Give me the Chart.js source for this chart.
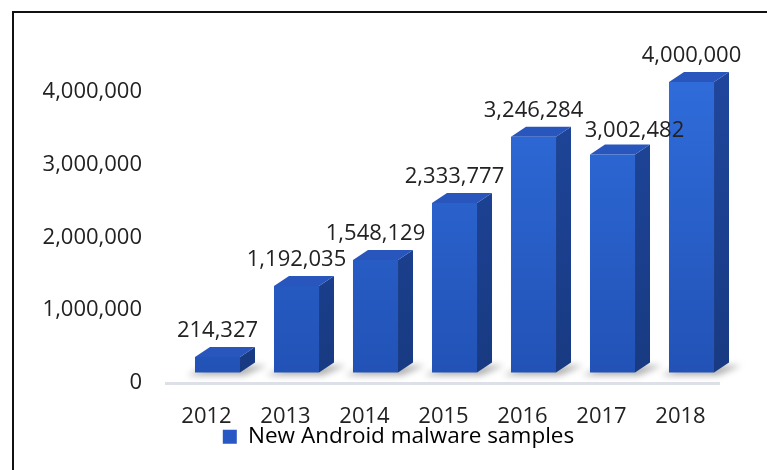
<!DOCTYPE html>
<html>
<head>
<meta charset="utf-8">
<script src="https://cdn.jsdelivr.net/npm/chart.js@4"></script>
<style>
  html, body { margin: 0; padding: 0; background: #fff; }
  #wrap { width: 767px; height: 470px; position: relative; }
</style>
</head>
<body>
<div id="wrap"><canvas id="malwareChart"></canvas></div>
<script>
const years = ['2012', '2013', '2014', '2015', '2016', '2017', '2018'];
const samples = [214327, 1192035, 1548129, 2333777, 3246284, 3002482, 4000000];
const yTicks = [0, 1000000, 2000000, 3000000, 4000000];
const seriesName = 'New Android malware samples';

const FONT = '"Open Sans", "Noto Sans", sans-serif';
const TEXT = '#222222';

// fake 3D: how far the back of each bar sits from the front, and how far the whole block floats
const depth = { dx: 15, dy: 10, lift: 10 };
// hand-placed label tweaks (2017 label was pushed aside in the original)
const labelNudge = [[0, 0], [0, 0], [0, 0], [0, 0], [0, 0], [22, 3], [0, 0]];

const fmt = v => v.toLocaleString('en-US');

function frontGradient(c) {
    const { chartArea, ctx } = c.chart;
    if (!chartArea) return '#2a60cc';
    const g = ctx.createLinearGradient(0, chartArea.top, 0, chartArea.bottom);
    g.addColorStop(0, '#2f6cda');
    g.addColorStop(1, '#2252b6');
    return g;
}

const frame = {
    id: 'frame',
    beforeDraw(chart) {
        const ctx = chart.ctx;
        ctx.save();
        ctx.fillStyle = '#fff';
        ctx.fillRect(0, 0, chart.width, chart.height);
        ctx.strokeStyle = '#111';
        ctx.lineWidth = 2;
        ctx.beginPath();
        ctx.moveTo(13, chart.height);
        ctx.lineTo(13, 12);
        ctx.lineTo(chart.width, 12);
        ctx.stroke();
        ctx.restore();
    }
};

const bar3d = {
    id: 'bar3d',
    beforeDatasetsDraw(chart) {
        const ctx = chart.ctx;
        const area = chart.chartArea;
        const y0 = chart.scales.y.getPixelForValue(0);

        // floor line
        ctx.save();
        ctx.strokeStyle = '#dde0e6';
        ctx.lineWidth = 3;
        ctx.beginPath();
        ctx.moveTo(area.left - 13, y0 + 1);
        ctx.lineTo(area.right - 11, y0 + 1);
        ctx.stroke();
        ctx.restore();

        ctx.save();
        ctx.translate(0, -depth.lift);

        // soft shadows under the bars
        chart.getDatasetMeta(0).data.forEach(bar => {
            const l = bar.x - bar.width / 2, r = bar.x + bar.width / 2, b = bar.base;
            ctx.save();
            ctx.filter = 'blur(3px)';
            ctx.fillStyle = 'rgba(0,0,0,0.30)';
            ctx.beginPath();
            ctx.moveTo(l - 8, b + 3);
            ctx.lineTo(r + 4, b + 3);
            ctx.lineTo(r + depth.dx + 12, b - depth.dy + 3);
            ctx.lineTo(l + depth.dx, b - depth.dy + 3);
            ctx.closePath();
            ctx.fill();
            ctx.restore();
        });
    },
    afterDatasetsDraw(chart) {
        const ctx = chart.ctx;
        const area = chart.chartArea;
        const { dx, dy } = depth;

        chart.getDatasetMeta(0).data.forEach(bar => {
            const l = bar.x - bar.width / 2, r = bar.x + bar.width / 2;
            const t = bar.y, b = bar.base;

            const side = ctx.createLinearGradient(0, area.top, 0, area.bottom);
            side.addColorStop(0, '#1f469b');
            side.addColorStop(1, '#183a82');
            ctx.fillStyle = side;
            ctx.beginPath();
            ctx.moveTo(r, t);
            ctx.lineTo(r + dx, t - dy);
            ctx.lineTo(r + dx, b - dy);
            ctx.lineTo(r, b);
            ctx.closePath();
            ctx.fill();

            ctx.fillStyle = '#2856bd';
            ctx.beginPath();
            ctx.moveTo(l, t);
            ctx.lineTo(l + dx, t - dy);
            ctx.lineTo(r + dx, t - dy);
            ctx.lineTo(r, t);
            ctx.closePath();
            ctx.fill();
        });
        ctx.restore();

        // value labels
        ctx.save();
        ctx.font = '22px ' + FONT;
        ctx.fillStyle = TEXT;
        ctx.textAlign = 'center';
        ctx.textBaseline = 'alphabetic';
        chart.getDatasetMeta(0).data.forEach((bar, i) => {
            const [nx, ny] = labelNudge[i];
            ctx.fillText(fmt(samples[i]), bar.x + nx, bar.y - depth.lift - 20 + ny);
        });
        ctx.restore();
    }
};

new Chart(document.getElementById('malwareChart'), {
    type: 'bar',
    data: {
        labels: years,
        datasets: [{
            label: seriesName,
            data: samples,
            backgroundColor: frontGradient,
            borderWidth: 0,
            barPercentage: 0.57,
            categoryPercentage: 1,
            clip: false
        }]
    },
    options: {
        responsive: true,
        maintainAspectRatio: false,
        animation: false,
        layout: { padding: { left: 30, right: 0, top: 92, bottom: 12 } },
        scales: {
            x: {
                grid: { display: false, drawTicks: false },
                border: { display: false },
                ticks: {
                    color: TEXT,
                    font: { family: FONT, size: 22 },
                    padding: 21,
                    labelOffset: -11,
                    maxRotation: 0
                },
                afterFit(scale) { scale.height = 43; }
            },
            y: {
                min: 0,
                max: 4000000,
                grid: { display: false, drawTicks: false },
                border: { display: false },
                afterBuildTicks(scale) { scale.ticks = yTicks.map(v => ({ value: v })); },
                ticks: {
                    color: TEXT,
                    font: { family: FONT, size: 22 },
                    padding: 36,
                    callback: v => fmt(v)
                },
                afterFit(scale) { scale.width = 148; }
            },
            // empty gutter on the right so the plot ends short of the edge
            gutter: {
                position: 'right',
                grid: { display: false, drawTicks: false },
                border: { display: false },
                ticks: { display: false },
                afterFit(scale) { scale.width = 36; }
            }
        },
        plugins: {
            tooltip: { enabled: false },
            legend: {
                position: 'bottom',
                labels: {
                    color: TEXT,
                    font: { family: FONT, size: 22.5 },
                    boxWidth: 14,
                    boxHeight: 14,
                    padding: 0,
                    generateLabels: () => [{
                        text: seriesName,
                        fillStyle: '#2858c4',
                        strokeStyle: '#2858c4',
                        lineWidth: 0,
                        hidden: false,
                        datasetIndex: 0
                    }]
                }
            }
        }
    },
    plugins: [frame, bar3d]
});
</script>
</body>
</html>
